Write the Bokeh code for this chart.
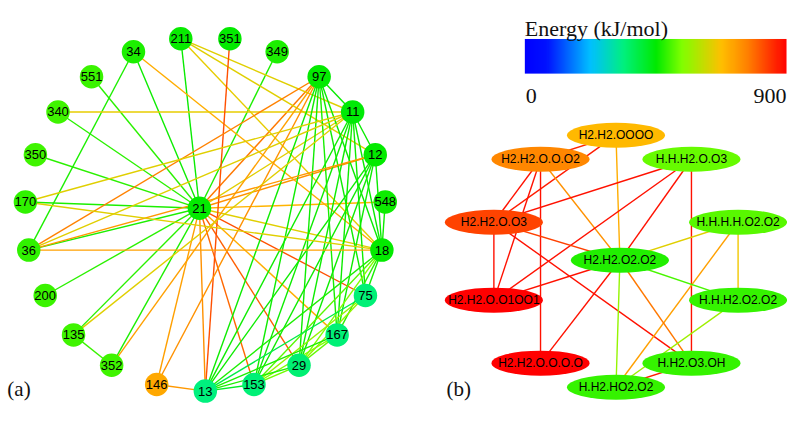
import numpy as np
from bokeh.plotting import figure
from bokeh.models import ColumnDataSource, Range1d, LinearColorMapper
from bokeh.transform import linear_cmap
from bokeh.core.properties import value
from bokeh.embed import file_html
from bokeh.resources import INLINE

# ---------------- data: panel (a) ----------------
ring_a = ["13", "153", "29", "167", "75", "18", "548", "12", "11", "97", "349", "351",
          "211", "34", "551", "340", "350", "170", "36", "200", "135", "352", "146"]
ring_a_energy = [340, 345, 350, 345, 345, 450, 460, 450, 445, 450, 470, 450,
                 455, 470, 490, 495, 495, 485, 485, 490, 495, 495, 710]
hub_a = "21"
hub_a_energy = 450

edge_a_src = ["21", "21", "21", "21", "21", "21", "21", "21", "21", "21", "21", "21",
              "21", "21", "21", "21", "21", "21", "21", "21", "21", "21",
              "34", "34", "340", "211", "211", "211", "351",
              "97", "97", "97", "97", "97", "97", "97", "97", "97", "97",
              "11", "11", "11", "11", "11", "11", "11", "11", "11", "11",
              "12", "12", "12", "12", "12", "12", "548",
              "18", "18", "18", "18", "18", "18", "18",
              "75", "75", "75", "167", "167", "167", "29", "29", "153", "146", "135"]
edge_a_dst = ["34", "211", "349", "551", "340", "350", "170", "36", "200", "135", "352", "146",
              "13", "153", "29", "75", "167", "18", "548", "97", "11", "12",
              "36", "18", "11", "11", "12", "18", "13",
              "11", "18", "75", "29", "153", "13", "146", "352", "36", "167",
              "12", "18", "75", "167", "29", "153", "13", "36", "135", "170",
              "36", "18", "29", "153", "13", "167", "18",
              "75", "167", "29", "153", "13", "170", "36",
              "153", "29", "13", "29", "153", "13", "153", "13", "13", "13", "352"]
edge_a_energy = [460, 455, 470, 480, 480, 480, 470, 470, 480, 480, 470, 720,
                 740, 790, 800, 815, 700, 640, 690, 770, 640, 740,
                 470, 700, 650, 640, 640, 650, 815,
                 455, 455, 460, 460, 460, 460, 740, 720, 760, 465,
                 455, 455, 460, 460, 460, 460, 460, 640, 640, 640,
                 730, 455, 460, 460, 460, 460, 460,
                 465, 480, 540, 510, 470, 640, 720,
                 560, 560, 390, 520, 540, 470, 530, 470, 420, 730, 490]

# ---------------- data: panel (b) ----------------
ring_b = ["H2.H2.OOOO", "H.H.H2.O.O3", "H.H.H.H.O2.O2", "H.H.H2.O2.O2", "H.H2.O3.OH",
          "H.H2.HO2.O2", "H2.H2.O.O.O.O", "H2.H2.O.O1OO1", "H2.H2.O.O3", "H2.H2.O.O.O2"]
ring_b_energy = [685, 522, 510, 486, 486, 486, 900, 900, 829, 755]
hub_b = "H2.H2.O2.O2"
hub_b_energy = 474

edge_b_src = ["H2.H2.OOOO", "H2.H2.OOOO", "H2.H2.OOOO",
              "H2.H2.O.O.O2", "H2.H2.O.O.O2", "H2.H2.O.O.O2", "H2.H2.O.O.O2",
              "H.H.H2.O.O3", "H.H.H2.O.O3", "H.H.H2.O.O3", "H.H.H2.O.O3",
              "H2.H2.O.O3", "H2.H2.O.O3", "H2.H2.O.O3",
              "H.H.H.H.O2.O2", "H.H.H.H.O2.O2", "H.H.H.H.O2.O2",
              "H2.H2.O2.O2", "H2.H2.O2.O2", "H2.H2.O2.O2", "H2.H2.O2.O2", "H2.H2.O2.O2",
              "H.H.H2.O2.O2", "H.H2.O3.OH"]
edge_b_dst = ["H2.H2.O.O.O2", "H2.H2.O.O3", "H2.H2.O2.O2",
              "H2.H2.O.O3", "H2.H2.O.O1OO1", "H2.H2.O.O.O.O", "H2.H2.O2.O2",
              "H2.H2.O.O3", "H2.H2.O.O1OO1", "H2.H2.O2.O2", "H.H2.O3.OH",
              "H2.H2.O2.O2", "H2.H2.O.O1OO1", "H.H2.O3.OH",
              "H2.H2.O2.O2", "H.H2.HO2.O2", "H.H.H2.O2.O2",
              "H2.H2.O.O1OO1", "H2.H2.O.O.O.O", "H.H.H2.O2.O2", "H.H2.O3.OH", "H.H2.HO2.O2",
              "H.H2.HO2.O2", "H.H2.HO2.O2"]
edge_b_energy = [860, 870, 700,
                 880, 880, 880, 740,
                 880, 880, 880, 880,
                 830, 880, 880,
                 640, 720, 660,
                 880, 880, 500, 770, 560,
                 570, 870]

cbar_title = "Energy (kJ/mol)"
cbar_low, cbar_high = 0, 900

# ---------------- colour scale ----------------
stops = [(0.0, "#0000ff"), (0.08, "#0010ff"), (0.25, "#00c0ff"), (0.375, "#00f080"),
         (0.5, "#00ea00"), (0.6, "#80ff00"), (0.75, "#ffc000"), (0.85, "#ff8000"),
         (1.0, "#ff0000")]


def make_palette(n=256):
    pos = np.array([s[0] for s in stops])
    rgb = np.array([[int(c[i:i + 2], 16) for i in (1, 3, 5)] for _, c in stops], float)
    t = np.linspace(0, 1, n)
    out = []
    for v in t:
        r, g, b = (np.interp(v, pos, rgb[:, k]) for k in range(3))
        out.append("#%02x%02x%02x" % (int(round(r)), int(round(g)), int(round(b))))
    return out


palette = make_palette()
mapper = LinearColorMapper(palette=palette, low=cbar_low, high=cbar_high)


# ---------------- layout (circular) ----------------
def ring_layout(names, cx, cy, r, start_deg, direction):
    n = len(names)
    ang = np.deg2rad(start_deg + direction * 360.0 * np.arange(n) / n)
    return {nm: (cx + r * np.cos(a), cy + r * np.sin(a)) for nm, a in zip(names, ang)}


pos_a = ring_layout(ring_a, 209, 222, 184, 90, -1)
pos_a[hub_a] = (209 - 6, 222 - 6)
pos_b = ring_layout(ring_b, 628, 271, 131, -90, 1)
pos_b[hub_b] = (628 + 4, 271 - 1)

p = figure(width=787, height=405, x_range=Range1d(0, 803), y_range=Range1d(421, 0),
           output_backend="svg", toolbar_location=None,
           x_axis_location=None, y_axis_location=None, min_border=0,
           outline_line_color=None)
p.grid.visible = False
p.background_fill_color = "white"


def edge_source(pos, src, dst, en):
    return ColumnDataSource(dict(
        x0=[pos[s][0] for s in src], y0=[pos[s][1] for s in src],
        x1=[pos[d][0] for d in dst], y1=[pos[d][1] for d in dst], energy=en))


cmap = linear_cmap("energy", palette, cbar_low, cbar_high)

p.segment("x0", "y0", "x1", "y1", source=edge_source(pos_a, edge_a_src, edge_a_dst, edge_a_energy),
          line_color=cmap, line_width=1.4)
p.segment("x0", "y0", "x1", "y1", source=edge_source(pos_b, edge_b_src, edge_b_dst, edge_b_energy),
          line_color=cmap, line_width=1.4)

names_a = ring_a + [hub_a]
src_na = ColumnDataSource(dict(x=[pos_a[n][0] for n in names_a], y=[pos_a[n][1] for n in names_a],
                               name=names_a, energy=ring_a_energy + [hub_a_energy]))
p.scatter("x", "y", source=src_na, size=23.5, fill_color=cmap, line_color=None)
p.text("x", "y", text="name", source=src_na, text_align="center", text_baseline="middle",
       text_font=value("Liberation Sans"), text_font_size="13px", text_color="black")

names_b = ring_b + [hub_b]
src_nb = ColumnDataSource(dict(x=[pos_b[n][0] for n in names_b], y=[pos_b[n][1] for n in names_b],
                               name=names_b, energy=ring_b_energy + [hub_b_energy]))
p.ellipse("x", "y", width=100, height=26, source=src_nb, fill_color=cmap, line_color=None)
p.text("x", "y", text="name", source=src_nb, text_align="center", text_baseline="middle",
       text_font=value("Liberation Sans"), text_font_size="12px", text_color="black")

# colour bar
grad = np.linspace(cbar_low, cbar_high, 256)[None, :]
p.image(image=[grad], x=535, y=40, dw=267, dh=36, color_mapper=mapper)
p.text(x=[535], y=[29], text=[cbar_title], text_font=value("Liberation Serif"),
       text_font_size="22px", text_color="#111111", text_baseline="alphabetic")
p.text(x=[536], y=[99], text=[str(cbar_low)], text_font=value("Liberation Serif"),
       text_font_size="22px", text_color="#111111", text_baseline="alphabetic")
p.text(x=[802], y=[99], text=[str(cbar_high)], text_font=value("Liberation Serif"),
       text_font_size="22px", text_color="#111111", text_baseline="alphabetic",
       text_align="right")

# panel tags
p.text(x=[7, 455], y=[404, 404], text=["(a)", "(b)"], text_font=value("Liberation Serif"),
       text_font_size="21px", text_color="#111111", text_baseline="alphabetic")

open("out.html", "w").write(file_html(p, INLINE))
